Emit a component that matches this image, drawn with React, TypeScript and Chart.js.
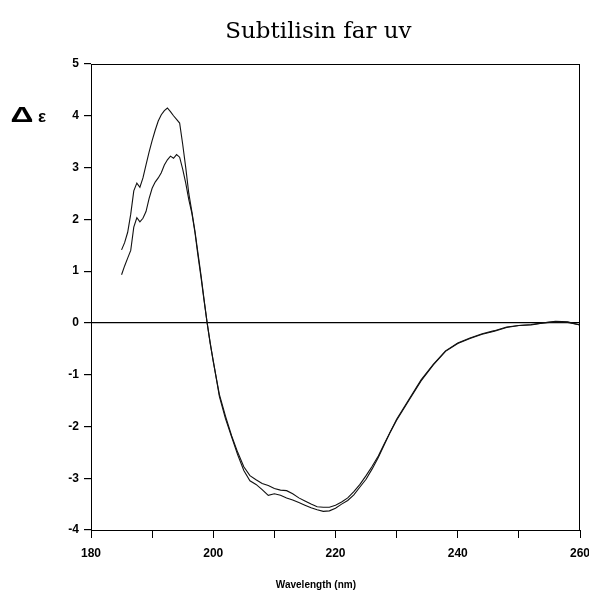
import React, { useEffect, useRef } from "react";
import { Chart, registerables } from "chart.js";

Chart.register(...registerables);

const chartTitle = "Subtilisin far uv";
const xAxisTitle = "Wavelength (nm)";

const wavelengths = [
  185, 185.5, 186, 186.5, 187, 187.5, 188, 188.5, 189, 189.5,
  190, 190.5, 191, 191.5, 192, 192.5, 193, 193.5, 194, 194.5,
  195, 195.5, 196, 196.5, 197, 197.5, 198, 198.5, 199, 199.5,
  200, 201, 202, 203, 204, 205, 206, 207, 208, 209,
  210, 211, 212, 213, 214, 215, 216, 217, 218, 219,
  220, 221, 222, 223, 224, 225, 226, 227, 228, 229,
  230, 232, 234, 236, 238, 240, 242, 244, 246, 248,
  250, 252, 254, 256, 258, 260,
];

const seriesA = [
  1.41, 1.55, 1.75, 2.1, 2.55, 2.7, 2.62, 2.8, 3.05, 3.3,
  3.52, 3.72, 3.9, 4.02, 4.1, 4.15, 4.08, 4.0, 3.93, 3.86,
  3.45, 3.0, 2.5, 2.15, 1.78, 1.35, 0.92, 0.45, 0.0, -0.38,
  -0.75, -1.38, -1.8, -2.18, -2.5, -2.78, -2.95, -3.03, -3.1, -3.14,
  -3.2, -3.23, -3.24, -3.3, -3.38, -3.44, -3.5, -3.55, -3.56, -3.56,
  -3.52, -3.46, -3.38, -3.26, -3.12, -2.95, -2.77, -2.57, -2.33, -2.1,
  -1.86, -1.48, -1.1, -0.8, -0.54, -0.39, -0.29, -0.21, -0.15, -0.08,
  -0.05, -0.03, 0.0, 0.03, 0.02, -0.04,
];

const seriesB = [
  0.93, 1.1, 1.25, 1.4, 1.85, 2.03, 1.95, 2.02, 2.15, 2.4,
  2.6, 2.72, 2.8, 2.9, 3.05, 3.15, 3.22, 3.18, 3.25, 3.2,
  2.97, 2.7, 2.38, 2.12, 1.75, 1.3, 0.88, 0.43, 0.0, -0.4,
  -0.73, -1.42, -1.85, -2.2, -2.55, -2.85, -3.05, -3.12, -3.22, -3.33,
  -3.3, -3.33, -3.38, -3.42, -3.47, -3.52, -3.57, -3.61, -3.64, -3.63,
  -3.58, -3.5, -3.43, -3.32, -3.17, -3.02, -2.82, -2.6, -2.35, -2.1,
  -1.88, -1.5, -1.12, -0.81, -0.55, -0.4, -0.3, -0.22, -0.16, -0.09,
  -0.05, -0.04, 0.0, 0.02, 0.01, -0.04,
];

const xMin = 180;
const xMax = 260;
const yMin = -4;
const yMax = 5;

const tickFont = {
  family: "'Liberation Sans Narrow', 'Liberation Sans', Arial, sans-serif",
  size: 12,
  weight: "bold" as const,
};

const decorPlugin = {
  id: "decor",
  afterDraw(chart: any) {
    const { ctx, chartArea } = chart;
    const a = chartArea;
    ctx.save();
    // frame
    ctx.strokeStyle = "#000";
    ctx.lineWidth = 1;
    ctx.strokeRect(a.left + 0.5, a.top + 0.5, a.right - a.left - 1, a.bottom - a.top);
    // title
    ctx.fillStyle = "#000";
    ctx.font = "23px 'DejaVu Serif', 'Liberation Serif', serif";
    ctx.textAlign = "center";
    ctx.textBaseline = "middle";
    ctx.fillText(chartTitle, a.left + (a.right - a.left) * 0.465, a.top - 32);
    // y label  Δε
    ctx.save();
    ctx.translate(22, a.top + 52);
    ctx.scale(1.45, 1);
    ctx.font = "bold 22px 'Liberation Sans', Arial, sans-serif";
    ctx.textAlign = "center";
    ctx.fillText("\u0394", 0, 0);
    ctx.restore();
    ctx.font = "bold 17px 'Liberation Sans', Arial, sans-serif";
    ctx.textAlign = "left";
    ctx.fillText("\u03b5", 38, a.top + 53);
    // x label
    ctx.font = "bold 10px 'Liberation Sans Narrow', 'Liberation Sans', Arial, sans-serif";
    ctx.textAlign = "center";
    ctx.fillText(xAxisTitle, a.left + (a.right - a.left) * 0.46, a.bottom + 55);
    ctx.restore();
  },
};

export default function App() {
  const canvasRef = useRef<HTMLCanvasElement | null>(null);

  useEffect(() => {
    document.body.style.margin = "0";
    const canvas = canvasRef.current;
    if (!canvas) return;
    const mk = (vals: number[]) => wavelengths.map((x, i) => ({ x, y: vals[i] }));
    const chart = new Chart(canvas, {
      type: "line",
      data: {
        datasets: [
          {
            label: "A",
            data: mk(seriesA),
            borderColor: "#111",
            borderWidth: 1.1,
            pointRadius: 0,
            tension: 0,
            fill: false,
          },
          {
            label: "B",
            data: mk(seriesB),
            borderColor: "#111",
            borderWidth: 1.1,
            pointRadius: 0,
            tension: 0,
            fill: false,
          },
        ],
      },
      options: {
        responsive: false,
        animation: false,
        events: [],
        layout: { padding: { top: 64, right: 9, left: 0, bottom: 0 } },
        plugins: {
          legend: { display: false },
          title: { display: false },
          tooltip: { enabled: false },
        },
        scales: {
          x: {
            type: "linear",
            min: xMin,
            max: xMax,
            ticks: {
              stepSize: 10,
              autoSkip: false,
              maxRotation: 0,
              color: "#000",
              font: tickFont,
              padding: 8,
              callback: (v: any) => (Number(v) % 20 === 0 ? String(v) : ""),
            },
            grid: {
              drawOnChartArea: false,
              drawTicks: true,
              tickLength: 8,
              tickColor: "#000",
            },
            border: { display: true, color: "#000", width: 1 },
            afterFit: (s: any) => {
              s.height = 63;
              s.paddingRight = 0;
              s.paddingLeft = 0;
            },
          },
          y: {
            min: yMin,
            max: yMax,
            ticks: {
              stepSize: 1,
              color: "#000",
              font: tickFont,
              padding: 5,
            },
            grid: {
              color: (c: any) => (c.tick && c.tick.value === 0 ? "#000" : "rgba(0,0,0,0)"),
              lineWidth: 1.2,
              tickLength: 7,
              tickColor: "#000",
            },
            border: { display: true, color: "#000", width: 1 },
            afterFit: (s: any) => {
              s.width = 91;
              s.paddingTop = 0;
              s.paddingBottom = 0;
            },
          },
        },
      },
      plugins: [decorPlugin],
    } as any);
    return () => chart.destroy();
  }, []);

  return <canvas ref={canvasRef} width={589} height={593} style={{ display: "block" }} />;
}
